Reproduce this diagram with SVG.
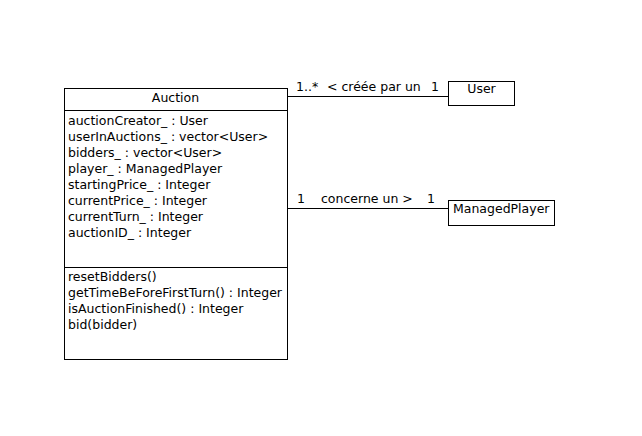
<svg xmlns="http://www.w3.org/2000/svg" width="642" height="436" viewBox="0 0 642 436">
<style>
text{font-family:"DejaVu Sans",sans-serif;font-size:12.5px;fill:#000}
.box{fill:#fff;stroke:#000;stroke-width:1}
.ln{stroke:#000;stroke-width:1;fill:none}
</style>
<rect width="642" height="436" fill="#fff"/>
<g id="connectors">
<line class="ln" x1="287.5" y1="96.5" x2="448.5" y2="96.5"/>
<line class="ln" x1="287.5" y1="208.5" x2="448.5" y2="208.5"/>
<text x="296" y="91">1..*</text>
<text x="327" y="91">&lt; créée par un</text>
<text x="431" y="91">1</text>
<text x="297" y="203">1</text>
<text x="321" y="203">concerne un &gt;</text>
<text x="427" y="203">1</text>
</g>
<g id="Auction">
<rect class="box" x="64.5" y="88.5" width="223" height="271"/>
<line class="ln" x1="64.5" y1="110.5" x2="287.5" y2="110.5"/>
<line class="ln" x1="64.5" y1="267.5" x2="287.5" y2="267.5"/>
<text x="175.5" y="102" text-anchor="middle">Auction</text>
<text x="68" y="125">auctionCreator_ : User</text>
<text x="68" y="141">userInAuctions_ : vector&lt;User&gt;</text>
<text x="68" y="157">bidders_ : vector&lt;User&gt;</text>
<text x="68" y="173">player_ : ManagedPlayer</text>
<text x="68" y="189">startingPrice_ : Integer</text>
<text x="68" y="205">currentPrice_ : Integer</text>
<text x="68" y="221">currentTurn_ : Integer</text>
<text x="68" y="237">auctionID_ : Integer</text>
<text x="68" y="281">resetBidders()</text>
<text x="68" y="297">getTimeBeForeFirstTurn() : Integer</text>
<text x="68" y="313">isAuctionFinished() : Integer</text>
<text x="68" y="329">bid(bidder)</text>
</g>
<g id="User">
<rect class="box" x="448.5" y="81.5" width="66" height="24"/>
<text x="481.5" y="93" text-anchor="middle">User</text>
</g>
<g id="ManagedPlayer">
<rect class="box" x="448.5" y="200.5" width="106" height="25"/>
<text x="453" y="213">ManagedPlayer</text>
</g>
</svg>
